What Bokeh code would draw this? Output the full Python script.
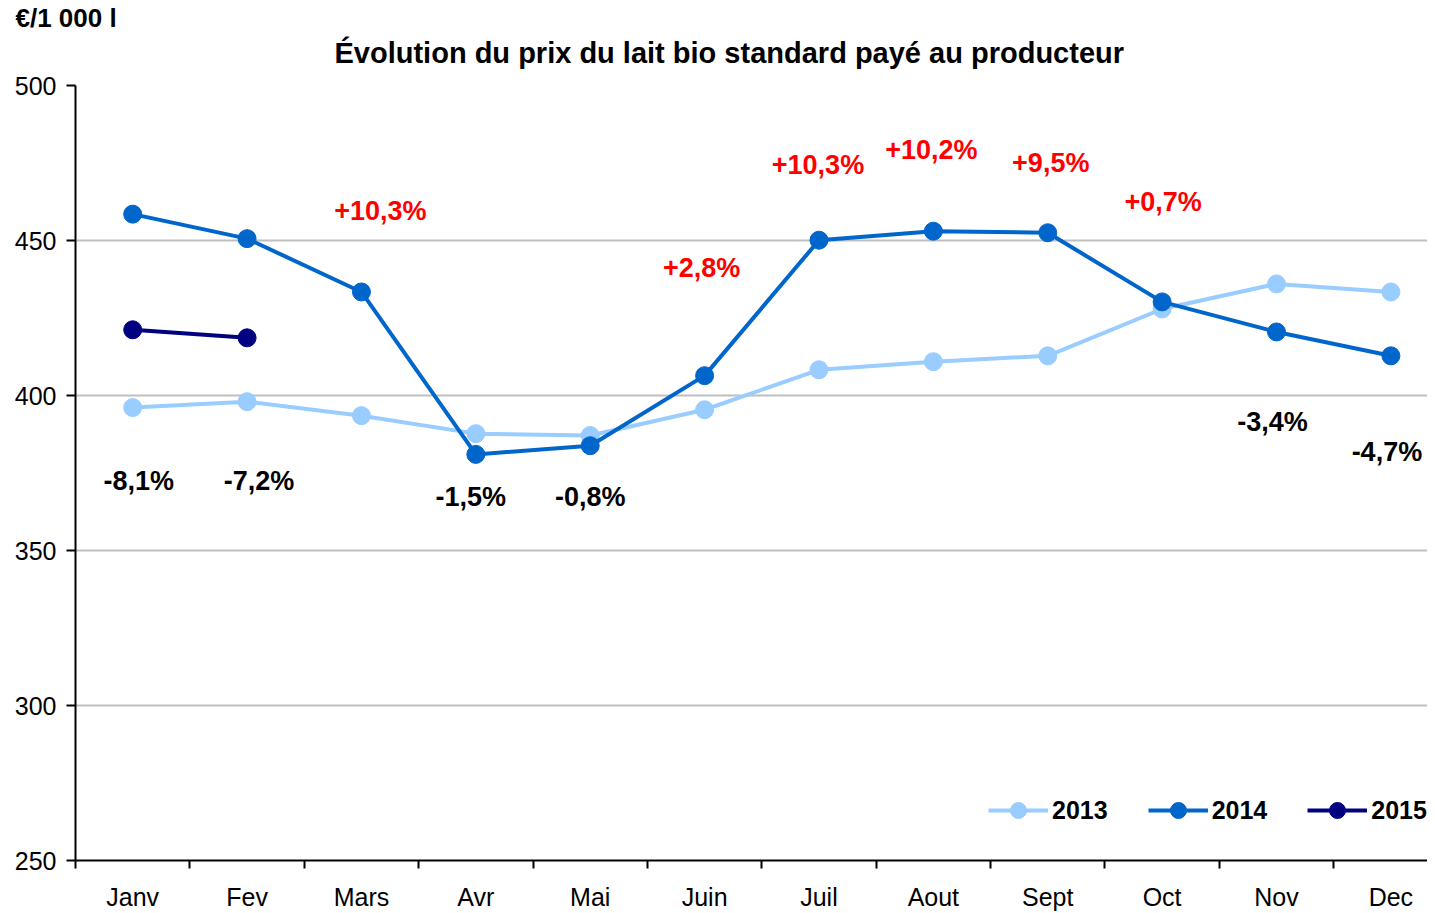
from bokeh.plotting import figure
from bokeh.models import (Range1d, FixedTicker, Legend, LegendItem, Title, ColumnDataSource)
from bokeh.core.properties import value
from bokeh.embed import file_html
from bokeh.resources import INLINE

months = ["Janv", "Fev", "Mars", "Avr", "Mai", "Juin", "Juil", "Aout", "Sept", "Oct", "Nov", "Dec"]
prix_2013 = [396.1, 398.0, 393.5, 387.7, 387.1, 395.4, 408.3, 410.9, 412.8, 427.9, 436.0, 433.4]
prix_2014 = [458.5, 450.6, 433.4, 381.0, 383.8, 406.4, 450.1, 453.0, 452.5, 430.2, 420.5, 412.8]
prix_2015 = [421.2, 418.6]
evolution = ["-8,1%", "-7,2%", "+10,3%", "-1,5%", "-0,8%", "+2,8%", "+10,3%", "+10,2%", "+9,5%", "+0,7%", "-3,4%", "-4,7%"]
evolution_y = [372.3, 372.3, 459.5, 367.4, 367.4, 441.1, 474.3, 479.1, 474.9, 462.4, 391.6, 381.9]
evolution_dx = [6, 12, 19, -5, 0, -3, -1, -2, 3, 1, -4, -4]
y_ticks = [250, 300, 350, 400, 450, 500]

FONT = "Liberation Sans"
C13, C14, C15 = "#99CCFF", "#0066CC", "#000080"

xc = [i + 0.5 for i in range(len(months))]

p = figure(width=1427, height=913, output_backend="svg", toolbar_location=None,
           x_range=Range1d(0, 11.82), y_range=Range1d(250, 500),
           min_border_left=75, min_border_right=0, min_border_top=85, min_border_bottom=51)
p.outline_line_color = None
p.background_fill_color = "white"
p.border_fill_color = "white"

# titles (first added is nearest the frame)
p.add_layout(Title(text="Évolution du prix du lait bio standard payé au producteur",
                   text_font=FONT, text_font_size="29px", text_font_style="bold",
                   text_color="black", align="left", offset=259, standoff=34), "above")
p.add_layout(Title(text="€/1 000 l", text_font=FONT, text_font_size="26px",
                   text_font_style="bold", text_color="black", align="left",
                   offset=-60, standoff=-31), "above")

# axes
xa = p.xaxis[0]
xa.ticker = FixedTicker(ticks=xc, minor_ticks=list(range(13)))
xa.major_label_overrides = {x: m for x, m in zip(xc, months)}
xa.major_tick_line_alpha = 0
xa.major_tick_out = 8
xa.major_tick_in = 0
xa.minor_tick_out = 8
xa.minor_tick_in = 0
xa.minor_tick_line_color = "black"
xa.minor_tick_line_width = 2
xa.axis_line_color = "black"
xa.axis_line_width = 2
xa.major_label_standoff = 14
xa.major_label_text_font = FONT
xa.major_label_text_font_size = "25px"
xa.major_label_text_color = "black"

ya = p.yaxis[0]
ya.ticker = FixedTicker(ticks=y_ticks, minor_ticks=[])
ya.major_tick_out = 9
ya.major_tick_in = 0
ya.major_tick_line_width = 2
ya.major_tick_line_color = "black"
ya.axis_line_color = "black"
ya.axis_line_width = 2
ya.major_label_standoff = 10
ya.major_label_text_font = FONT
ya.major_label_text_font_size = "25px"
ya.major_label_text_color = "black"

p.xgrid.grid_line_color = None
p.ygrid.ticker = FixedTicker(ticks=y_ticks)
p.ygrid.grid_line_color = "#BFBFBF"
p.ygrid.grid_line_width = 2

# series
l13 = p.line(xc, prix_2013, line_color=C13, line_width=4)
s13 = p.scatter(xc, prix_2013, size=18, fill_color=C13, line_color=C13)
l14 = p.line(xc, prix_2014, line_color=C14, line_width=4)
s14 = p.scatter(xc, prix_2014, size=18, fill_color=C14, line_color=C14)
l15 = p.line(xc[:len(prix_2015)], prix_2015, line_color=C15, line_width=4)
s15 = p.scatter(xc[:len(prix_2015)], prix_2015, size=18, fill_color=C15, line_color=C15)

# evolution labels
lab_src = ColumnDataSource(dict(
    x=xc, y=evolution_y, text=evolution, dx=evolution_dx,
    color=["#FF0000" if t.startswith("+") else "black" for t in evolution]))
p.text(x="x", y="y", text="text", x_offset="dx", text_color="color", source=lab_src,
       text_font=value(FONT), text_font_size="27px", text_font_style="bold",
       text_align="center", text_baseline="middle")

legend = Legend(items=[LegendItem(label="2013", renderers=[l13, s13]),
                       LegendItem(label="2014", renderers=[l14, s14]),
                       LegendItem(label="2015", renderers=[l15, s15])],
                orientation="horizontal", location=(913, 30),
                glyph_width=60, glyph_height=40, label_standoff=4, spacing=40,
                padding=0, margin=0, border_line_color=None, background_fill_alpha=0,
                label_text_font=FONT, label_text_font_size="25px", label_text_font_style="bold",
                label_text_color="black")
p.add_layout(legend, "center")

open("out.html", "w").write(file_html(p, INLINE))
